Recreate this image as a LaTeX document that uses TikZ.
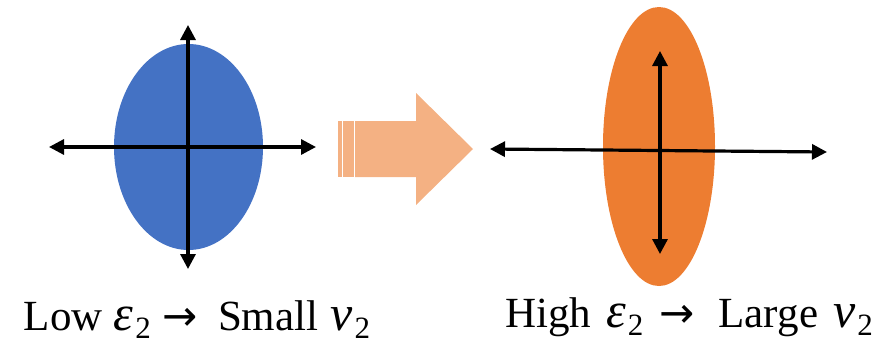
\documentclass[tikz,border=0pt]{standalone}
\usepackage{fontspec}
\setmainfont{Liberation Serif}
\newfontfamily\capfont{Liberation Serif}
\newfontfamily\symfont{DejaVu Sans}
\usetikzlibrary{arrows.meta,shapes.geometric}
\definecolor{blueE}{HTML}{4472C4}
\definecolor{orangeE}{HTML}{ED7D31}
\definecolor{arrowC}{HTML}{F4B183}
\newcommand{\subtwo}{\kern2pt\raisebox{-8pt}{\fontsize{31}{32}\selectfont 2}}
\newcommand{\mvar}[1]{{\fontsize{50}{52}\selectfont\itshape #1}}
\newcommand{\rarr}{{\symfont\fontsize{42}{44}\selectfont →}}
\begin{document}
\begin{tikzpicture}[x=1pt,y=-1pt,
  blob/.style={ellipse,inner sep=0pt,draw=none},
  axis/.style={line width=3.2pt,{Triangle[length=15pt,width=15pt]}-{Triangle[length=15pt,width=15pt]}},
  caption/.style={anchor=base,inner sep=0pt,font=\capfont\fontsize{43}{46}\selectfont}]
\useasboundingbox (0,0) rectangle (879,346);
% left ellipse
\node[blob,fill=blueE,minimum width=149pt,minimum height=206pt] (lowE) at (188.5,147) {};
\coordinate (lL) at (49,147);
\coordinate (lR) at (316,147);
\coordinate (lT) at (188,25);
\coordinate (lB) at (188,269);
\draw[axis] (lL) -- (lR);
\draw[axis] (lT) -- (lB);
% block arrow
\fill[arrowC] (338,121) rectangle (341.8,177);
\fill[arrowC] (343.3,121) rectangle (353.8,177);
\fill[arrowC] (355,121) -- (416,121) -- (416,93) -- (473,149) -- (416,205) -- (416,177) -- (355,177) -- cycle;
% right ellipse
\node[blob,fill=orangeE,minimum width=112pt,minimum height=279pt] (highE) at (659,146.5) {};
\coordinate (rL) at (490,149);
\coordinate (rR) at (827,152);
\coordinate (rT) at (660,51);
\coordinate (rB) at (660,254);
\draw[axis] (rL) -- (rR);
\draw[axis] (rT) -- (rB);
% captions
\node[caption] (lowT) at (197,330) {Low\hspace{11pt}\mvar{ε}\subtwo\hspace{12pt}\rarr\hspace{20pt}Small\hspace{12pt}\mvar{v}\subtwo};
\node[caption] (highT) at (689,327) {High\hspace{15pt}\mvar{ε}\subtwo\hspace{16pt}\rarr\hspace{24pt}Large\hspace{15pt}\mvar{v}\subtwo};
\end{tikzpicture}
\end{document}
